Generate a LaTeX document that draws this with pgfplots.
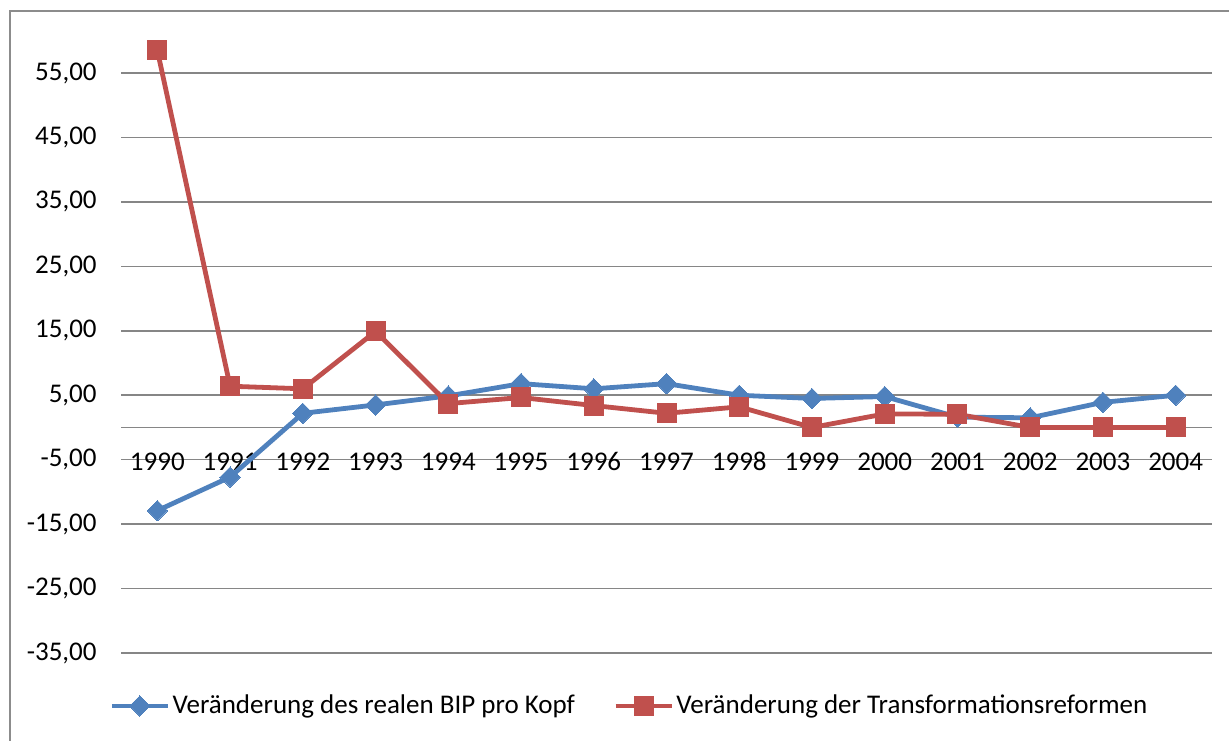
\documentclass[border=0pt]{standalone}
\usepackage{pgfplots}
\pgfplotsset{compat=1.18}
\usepackage{fontspec}
\setmainfont{Carlito}
\definecolor{xlblue}{HTML}{4F81BD}
\definecolor{xlred}{HTML}{C0504D}
\definecolor{xlgrid}{HTML}{868686}
\definecolor{xlframe}{HTML}{8C8C8C}
\begin{document}
\fontsize{13.5pt}{16pt}\selectfont
\begin{tikzpicture}
\useasboundingbox (0,0) rectangle (614.5pt,370pt);
\draw[xlframe, line width=0.8pt] (5pt,-5pt) -- (5pt,364.5pt) -- (620pt,364.5pt);
\begin{axis}[
  at={(60.5pt,43.5pt)}, anchor=south west,
  scale only axis, width=545.5pt, height=306.1pt,
  xmin=-0.5, xmax=14.5, ymin=-35, ymax=60,
  clip=false,
  axis line style={draw=none},
  tick style={draw=none},
  xtick={0,...,14},
  xticklabels={1990,1991,1992,1993,1994,1995,1996,1997,1998,1999,2000,2001,2002,2003,2004},
  xticklabel style={anchor=base, yshift=91.25pt, font=\fontsize{13.5pt}{16pt}\selectfont},
  ytick={-35,-25,-15,-5,5,15,25,35,45,55},
  yticklabels={{-35,00},{-25,00},{-15,00},{-5,00},{5,00},{15,00},{25,00},{35,00},{45,00},{55,00}},
  yticklabel style={anchor=east, xshift=-7.5pt, font=\fontsize{13.5pt}{16pt}\selectfont},
  ymajorgrids,
  major grid style={xlgrid, line width=0.75pt},
  extra y ticks={0},
  extra y tick labels={},
  extra y tick style={grid=major, major grid style={xlgrid, line width=0.75pt}},
  legend columns=2,
  legend style={draw=none, fill=none, inner sep=0pt, at={(-0.011,-0.0865)}, anchor=west,
    font=\fontsize{13.5pt}{16pt}\selectfont,
    nodes={inner xsep=1.2pt},
    /tikz/every even column/.append style={column sep=18pt}},
  legend cell align=left,
  legend image code/.code={
    \draw[mark repeat=2, mark phase=2, #1] plot coordinates {(0pt,0pt) (14pt,0pt) (28pt,0pt)};
  },
]
\addplot[xlblue, line width=2.4pt, mark=square*, mark size=3.6pt, mark options={rotate=45, solid, line width=0pt, fill=xlblue}]
  coordinates {(0,-12.9) (1,-7.7) (2,2.2) (3,3.5) (4,4.9) (5,6.8) (6,6.0) (7,6.8) (8,5.0) (9,4.5) (10,4.8) (11,1.6) (12,1.5) (13,3.9) (14,5.0)};
\addlegendentry{Veränderung des realen BIP pro Kopf}
\addplot[xlred, line width=2.4pt, mark=square*, mark size=4.75pt, mark options={solid, line width=0pt, fill=xlred}]
  coordinates {(0,58.5) (1,6.4) (2,6.0) (3,14.9) (4,3.7) (5,4.65) (6,3.4) (7,2.2) (8,3.2) (9,0) (10,2.1) (11,2.05) (12,0) (13,0) (14,0)};
\addlegendentry{Veränderung der Transformationsreformen}
\end{axis}
\end{tikzpicture}
\end{document}
